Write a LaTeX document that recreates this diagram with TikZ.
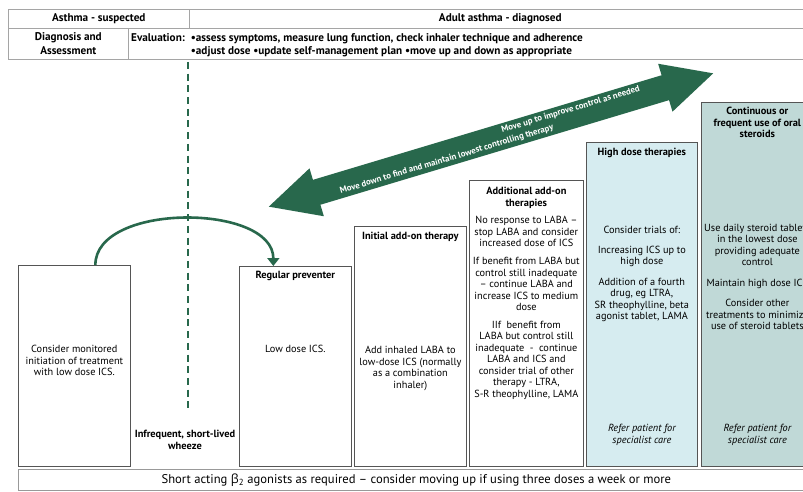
\documentclass[tikz,border=0pt]{standalone}
\usepackage{fontspec}
\setmainfont{PT Sans}
\newfontfamily\grkfont{Open Sans}
\usetikzlibrary{positioning}
\usetikzlibrary{arrows.meta}
\definecolor{asgreen}{RGB}{40,104,76}
\definecolor{hiblue}{RGB}{214,236,240}
\definecolor{oralgrey}{RGB}{192,217,215}
\definecolor{rulegrey}{RGB}{165,165,165}
\definecolor{boxgrey}{RGB}{85,85,85}

\begin{document}
\begin{tikzpicture}[x=1pt,y=-1pt,
  cell/.style={rectangle,draw=rulegrey,line width=0.6pt,anchor=north west,inner sep=0pt},
  stage box/.style={rectangle,draw=boxgrey,line width=0.7pt,anchor=north west,inner sep=0pt,minimum width=112pt},
  tab text/.style={font=\fontsize{11.2}{13.5}\selectfont\bfseries,inner sep=0pt,align=center},
  head text/.style={font=\fontsize{10.4}{11.5}\selectfont\bfseries,align=center,inner sep=0pt},
  body text/.style={font=\fontsize{10.3}{11.5}\selectfont,align=center,inner sep=0pt},
  refer text/.style={font=\fontsize{10.3}{11.5}\selectfont\itshape,align=center,inner sep=0pt},
  arrow text/.style={font=\fontsize{8.8}{10}\selectfont\bfseries,text=white,inner sep=0pt,rotate=16.7}]

\fill[white] (0,0) rectangle (803,492);
\useasboundingbox (0,0) rectangle (803,492);
\clip (0,0) rectangle (803,492);

\node[cell,tab text,minimum width=181pt,minimum height=19pt] (1) at (8,9) {Asthma - suspected};
\node[cell,tab text,minimum width=622pt,minimum height=19pt] (2) at (189,9) {Adult asthma - diagnosed};
\node[cell,tab text,minimum width=120pt,minimum height=31pt] (3) at (8,28) {Diagnosis and\\Assessment};
\node[cell,minimum width=683pt,minimum height=31pt] (4) at (128,28) {};
\node[tab text,anchor=west] (5) [right=3pt of 4.west,yshift=-1.5pt]
  {\begin{tabular}{@{}l@{\hspace{6pt}}l@{}}
   Evaluation: & •assess symptoms, measure lung function, check inhaler technique and adherence\\
               & •adjust dose •update self-management plan •move up and down as appropriate
   \end{tabular}};

\begin{scope}[shift={(491,140)},rotate=16.7]
\fill[asgreen] (-232,0) -- (-182,-25) -- (-182,-13) -- (182,-13) -- (182,-25)
  -- (232,0) -- (182,25) -- (182,13) -- (-182,13) -- (-182,25) -- cycle;
\node[arrow text] (6) at (85,-6) {Move up to improve control as needed};
\node[arrow text] (7) at (-48,6) {Move down to find and maintain lowest controlling therapy};
\end{scope}

\node[stage box,minimum height=201pt] (8) at (18,265) {};
\node[body text] (9) [below=80pt of 8.north] {Consider monitored\\initiation of treatment\\with low dose ICS.};
\node[head text] (10) at (185,440) {Infrequent, short-lived\\wheeze};

\node[stage box,minimum height=200pt] (11) at (239,266) {};
\node[head text] (12) [below=5pt of 11.north] {Regular preventer};
\node[body text] (13) [below=79pt of 11.north] {Low dose ICS.};

\node[stage box,minimum height=240pt] (14) at (354,226) {};
\node[head text] (15) [below=6pt of 14.north] {Initial add-on therapy};
\node[body text] (16) [below=120pt of 14.north] {Add inhaled LABA to\\low-dose ICS (normally\\as a combination\\inhaler)};

\node[stage box,minimum width=114pt,minimum height=286pt] (17) at (469,180) {};
\node[head text] (18) [below=7pt of 17.north] {Additional add-on\\therapies};
\node[body text] (19) [below=36pt of 17.north] {No response to LABA –\\stop LABA and consider\\increased dose of ICS\\[6.5pt]
  If benefit from LABA but\\control still inadequate\\– continue LABA and\\increase ICS to medium\\dose\\[6pt]
  IIf\ \ benefit from\\LABA but control still\\inadequate\ \ -\ \ continue\\LABA and ICS and\\consider trial of other\\therapy - LTRA,\\S-R theophylline, LAMA};

\node[stage box,fill=hiblue,minimum width=111pt,minimum height=324pt] (20) at (586,142) {};
\node[head text] (21) [below=6pt of 20.north] {High dose therapies};
\node[body text] (22) [below=84pt of 20.north] {Consider trials of:\\[8pt]Increasing ICS up to\\high dose\\[9pt]
  Addition of a fourth\\drug, eg LTRA,\\SR theophylline, beta\\agonist tablet, LAMA};
\node[refer text] (23) [above=21pt of 20.south] {Refer patient for\\specialist care};

\node[stage box,fill=oralgrey,minimum height=364pt] (24) at (701,102) {};
\node[head text] (25) [below=5pt of 24.north] {Continuous or\\frequent use of oral\\steroids};
\node[body text] (26) [below=122pt of 24.north] {Use daily steroid tablets\\in the lowest dose\\providing adequate\\control\\[9pt]
  Maintain high dose ICS\\[9pt]Consider other\\treatments to minimize\\use of steroid tablets};
\node[refer text] (27) [above=21pt of 24.south] {Refer patient for\\specialist care};

\node[cell,draw=boxgrey!60,minimum width=796pt,minimum height=21pt,font=\fontsize{12.6}{14}\selectfont] (28) at (18,469)
  {Short acting {\grkfont β}\textsubscript{2} agonists as required – consider moving up if using three doses a week or more};

\coordinate (29) at (188,62);
\coordinate (30) at (188,412);
\draw[asgreen,line width=2pt,dash pattern=on 7pt off 4.7pt] (29) -- (30);

\draw[asgreen,line width=2.6pt,-{Triangle[width=12pt,length=8pt]}]
  ([xshift=21pt]8.north) to[out=90,in=90,looseness=0.9] ([xshift=-22pt]11.north);
\end{tikzpicture}
\end{document}
